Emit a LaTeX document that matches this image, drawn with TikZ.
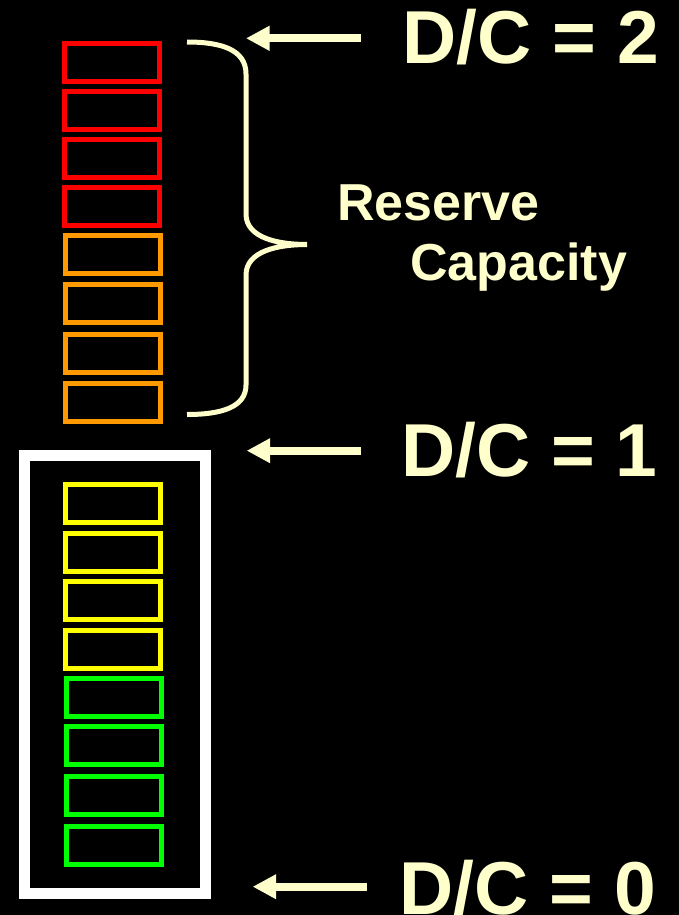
\documentclass[tikz,border=0pt]{standalone}
\usepackage{fontspec}
\setmainfont{Liberation Sans}
\usetikzlibrary{arrows.meta}
\definecolor{cream}{HTML}{FFFFCC}
\definecolor{cred}{HTML}{FF0000}
\definecolor{corange}{HTML}{FF9900}
\definecolor{cyellow}{HTML}{FFFF00}
\definecolor{cgreen}{HTML}{00FF00}
\tikzset{
  cell/.style={draw=#1, line width=5pt, minimum width=95pt, minimum height=38pt, inner sep=0pt, outer sep=0pt},
  bigtext/.style={text=cream, anchor=base west, inner sep=0pt, font=\fontsize{75}{90}\selectfont\bfseries},
  midtext/.style={text=cream, anchor=base west, inner sep=0pt, font=\fontsize{52}{62}\selectfont\bfseries},
  pointer/.style={draw=cream, line width=8pt, -{Triangle[length=23.5pt, width=23.5pt]}},
}
\begin{document}
\begin{tikzpicture}[x=1pt,y=-1pt]
\fill[black] (0,0) rectangle (679,915);
\useasboundingbox (0,0) rectangle (679,915);
% reserve cells
\node[cell=cred] (r1) at (112,62.2) {};
\node[cell=cred] (r2) at (112,110.8) {};
\node[cell=cred] (r3) at (112,158.2) {};
\node[cell=cred] (r4) at (112,206.5) {};
\node[cell=corange] (o1) at (112.8,254.8) {};
\node[cell=corange] (o2) at (112.8,303.8) {};
\node[cell=corange] (o3) at (112.8,353.8) {};
\node[cell=corange] (o4) at (112.8,402.5) {};
% used cells
\node[cell=cyellow] (y1) at (112.8,503.8) {};
\node[cell=cyellow] (y2) at (112.8,552.8) {};
\node[cell=cyellow] (y3) at (112.8,600.2) {};
\node[cell=cyellow] (y4) at (112.8,649.0) {};
\node[cell=cgreen] (g1) at (113.5,697.0) {};
\node[cell=cgreen] (g2) at (113.5,745.8) {};
\node[cell=cgreen] (g3) at (113.5,795.8) {};
\node[cell=cgreen] (g4) at (113.5,845.0) {};
% white frame
\node[draw=white, line width=10.5pt, minimum width=181pt, minimum height=438.2pt, inner sep=0pt] (frame) at (115.2,674.6) {};
% brace
\coordinate (bt) at (187,42);
\coordinate (bm) at (307,244.5);
\coordinate (bb) at (187,414.5);
\draw[cream, line width=5pt]
  (bt) .. controls (222,42) and (246,50) .. (246,74)
  -- (246,214) .. controls (246,238) and (278,244.5) .. (bm)
  .. controls (278,244.5) and (246,251) .. (246,275)
  -- (246,385) .. controls (246,407) and (222,414.5) .. (bb);
% labels
\node[bigtext] (dc2) at (402.5,63.3) {D/C = 2};
\node[bigtext] (dc1) at (401,476.7) {D/C = 1};
\node[bigtext] (dc0) at (399.5,914) {D/C = 0};
\node[midtext] (res) at (337,220) {Reserve};
\node[midtext] (cap) at (410,280) {Capacity};
% arrows
\coordinate (a2s) at (360.7,38.3);
\coordinate (a2t) at (246,38.3);
\coordinate (a1s) at (361,450.7);
\coordinate (a1t) at (246.7,450.7);
\coordinate (a0s) at (367,886.7);
\coordinate (a0t) at (252.7,886.7);
\draw[pointer] (a2s) -- (a2t);
\draw[pointer] (a1s) -- (a1t);
\draw[pointer] (a0s) -- (a0t);
\end{tikzpicture}
\end{document}
